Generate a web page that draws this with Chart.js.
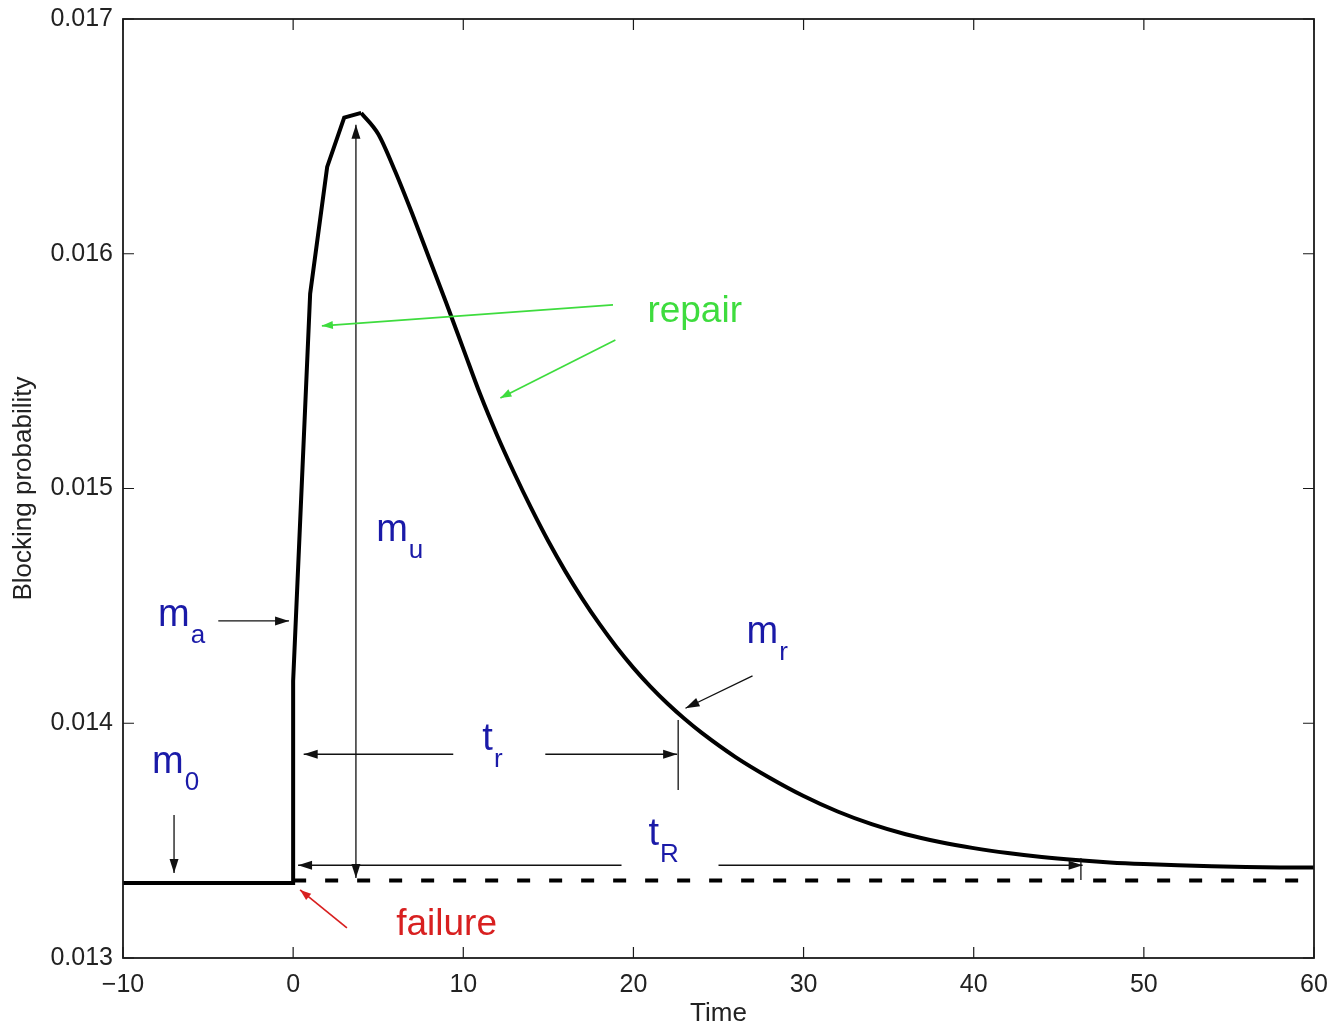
<!DOCTYPE html>
<html><head><meta charset="utf-8">
<script src="https://cdn.jsdelivr.net/npm/chart.js@4.4.0/dist/chart.umd.min.js"></script>
<style>html,body{margin:0;padding:0;background:#fff;}#wrap{width:1330px;height:1029px;}</style>
</head><body><div id="wrap"><canvas id="c" width="1330" height="1029"></canvas></div>
<script>
// ---- data ----
const timeValues = [-10, 0, 0, 1, 2, 3, 4, 5, 6, 7, 8, 9, 10, 11, 12, 13, 14, 15, 16, 17, 18, 19, 20, 21, 22, 23, 24, 26, 28, 30, 32, 34, 36, 38, 40, 42, 44, 46, 48, 50, 52, 54, 56, 58, 60];
const blockingValues = [0.01332, 0.01332, 0.01418, 0.01583, 0.01637, 0.01658, 0.01660, 0.01651, 0.01635, 0.01617, 0.01598, 0.01579, 0.015595, 0.015400, 0.015225, 0.015065, 0.014915, 0.014775, 0.014647, 0.014530, 0.014423, 0.014325, 0.014236, 0.014156, 0.014084, 0.014019, 0.013960, 0.013856, 0.013768, 0.013690, 0.013624, 0.013570, 0.013527, 0.013494, 0.013468, 0.013447, 0.013430, 0.013417, 0.013407, 0.013400, 0.013395, 0.013391, 0.013388, 0.013386, 0.013385];
const peakTime = 4; // the curve is smooth after the peak
const baselineTime = [0, 60];
const baselineValues = [0.01333, 0.01333];
const xTickValues = [-10, 0, 10, 20, 30, 40, 50, 60];
const xTickLabels = ['\u221210', '0', '10', '20', '30', '40', '50', '60'];
const yTickValues = [0.013, 0.014, 0.015, 0.016, 0.017];
const yTickLabels = ['0.013', '0.014', '0.015', '0.016', '0.017'];
const xTitle = 'Time';
const yTitle = 'Blocking probability';

// annotation arrows (data coordinates)
const arrows = [
  {from: [3.69, 0.013341], to: [3.69, 0.016549], both: true, kind: 'black'},
  {from: [-4.4, 0.014436], to: [-0.24, 0.014436], kind: 'black'},
  {from: [-7.0, 0.013609], to: [-7.0, 0.013362], kind: 'black'},
  {from: [9.41, 0.013868], to: [0.62, 0.013868], kind: 'black'},
  {from: [14.82, 0.013868], to: [22.57, 0.013868], kind: 'black'},
  {from: [19.3, 0.013395], to: [0.29, 0.013395], kind: 'black'},
  {from: [25.0, 0.013395], to: [46.4, 0.013395], kind: 'black'},
  {from: [27.0, 0.014202], to: [23.06, 0.014064], kind: 'black'},
  {from: [18.8, 0.015782], to: [1.69, 0.015693], kind: 'green'},
  {from: [18.94, 0.015633], to: [12.18, 0.015386], kind: 'green'},
  {from: [3.16, 0.013128], to: [0.41, 0.01329], kind: 'red'}
];
const tickMarks = [
  {x: 22.63, y1: 0.014014, y2: 0.013716},
  {x: 46.3, y1: 0.013426, y2: 0.013332}
];
const labels = [
  {main: 'm', sub: 'u', x: 4.88, y: 0.014777, kind: 'blue'},
  {main: 'm', sub: 'a', x: -7.94, y: 0.014415, kind: 'blue'},
  {main: 'm', sub: '0', x: -8.29, y: 0.013788, kind: 'blue'},
  {main: 't', sub: 'r', x: 11.12, y: 0.013886, kind: 'blue'},
  {main: 't', sub: 'R', x: 20.88, y: 0.013481, kind: 'blue'},
  {main: 'm', sub: 'r', x: 26.65, y: 0.014342, kind: 'blue'},
  {main: 'repair', sub: '', x: 20.82, y: 0.015710, kind: 'green'},
  {main: 'failure', sub: '', x: 6.06, y: 0.013098, kind: 'red'}
];

const FONT = "'Liberation Sans', Arial, Helvetica, sans-serif";
const colors = {black: '#111', green: '#3edc3e', red: '#d82020', blue: '#1a1aa8'};

const curve = timeValues.map((t, i) => ({x: t, y: blockingValues[i]}));
const peakIdx = timeValues.lastIndexOf(peakTime);
const risePart = curve.slice(0, peakIdx + 1);
const decayPart = curve.slice(peakIdx);
const base = baselineTime.map((t, i) => ({x: t, y: baselineValues[i]}));

function drawArrowHead(ctx, x1, y1, x2, y2, len, hw) {
  const a = Math.atan2(y2 - y1, x2 - x1);
  ctx.beginPath();
  ctx.moveTo(x2, y2);
  ctx.lineTo(x2 - len * Math.cos(a) + hw * Math.sin(a), y2 - len * Math.sin(a) - hw * Math.cos(a));
  ctx.lineTo(x2 - len * Math.cos(a) - hw * Math.sin(a), y2 - len * Math.sin(a) + hw * Math.cos(a));
  ctx.closePath();
  ctx.fill();
}

const decor = {
  id: 'decor',
  afterDatasetsDraw(chart) {
    const ctx = chart.ctx, xs = chart.scales.x, ys = chart.scales.y, a = chart.chartArea;
    ctx.save();
    ctx.strokeStyle = '#1a1a1a'; ctx.lineWidth = 1.8;
    ctx.strokeRect(a.left, a.top, a.right - a.left, a.bottom - a.top);
    ctx.lineWidth = 1.2;
    const tl = 11;
    xTickValues.forEach(v => {
      const px = xs.getPixelForValue(v);
      ctx.beginPath();
      ctx.moveTo(px, a.bottom); ctx.lineTo(px, a.bottom - tl);
      ctx.moveTo(px, a.top); ctx.lineTo(px, a.top + tl);
      ctx.stroke();
    });
    yTickValues.forEach(v => {
      const py = ys.getPixelForValue(v);
      ctx.beginPath();
      ctx.moveTo(a.left, py); ctx.lineTo(a.left + tl, py);
      ctx.moveTo(a.right, py); ctx.lineTo(a.right - tl, py);
      ctx.stroke();
    });
    arrows.forEach(ar => {
      const x1 = xs.getPixelForValue(ar.from[0]), y1 = ys.getPixelForValue(ar.from[1]);
      const x2 = xs.getPixelForValue(ar.to[0]), y2 = ys.getPixelForValue(ar.to[1]);
      const c = colors[ar.kind];
      ctx.strokeStyle = c; ctx.fillStyle = c;
      ctx.lineWidth = ar.kind === 'black' ? 1.3 : 1.7;
      ctx.beginPath(); ctx.moveTo(x1, y1); ctx.lineTo(x2, y2); ctx.stroke();
      const len = ar.kind === 'black' ? 14 : 11, hw = ar.kind === 'black' ? 4.5 : 4;
      drawArrowHead(ctx, x1, y1, x2, y2, len, hw);
      if (ar.both) drawArrowHead(ctx, x2, y2, x1, y1, len, hw);
    });
    ctx.strokeStyle = '#111'; ctx.lineWidth = 1.3;
    tickMarks.forEach(t => {
      const px = xs.getPixelForValue(t.x);
      ctx.beginPath();
      ctx.moveTo(px, ys.getPixelForValue(t.y1)); ctx.lineTo(px, ys.getPixelForValue(t.y2));
      ctx.stroke();
    });
    ctx.textBaseline = 'alphabetic'; ctx.textAlign = 'left';
    labels.forEach(l => {
      const px = xs.getPixelForValue(l.x), py = ys.getPixelForValue(l.y);
      ctx.fillStyle = colors[l.kind];
      ctx.font = (l.sub ? '38px ' : '37px ') + FONT;
      ctx.fillText(l.main, px, py);
      if (l.sub) {
        const w = ctx.measureText(l.main).width;
        ctx.font = '26px ' + FONT;
        ctx.fillText(l.sub, px + w + 1, py + 17);
      }
    });
    ctx.restore();
  }
};

const lineStyle = {showLine: true, borderColor: '#000', borderWidth: 4, pointRadius: 0, fill: false};

new Chart(document.getElementById('c'), {
  type: 'scatter',
  data: {
    datasets: [
      Object.assign({data: risePart, tension: 0}, lineStyle),
      Object.assign({data: decayPart, cubicInterpolationMode: 'monotone'}, lineStyle),
      Object.assign({data: base, tension: 0, borderDash: [13, 19]}, lineStyle)
    ]
  },
  options: {
    responsive: false, animation: false, devicePixelRatio: 1,
    layout: {padding: {left: 0, right: 16, top: 19, bottom: 0}},
    plugins: {legend: {display: false}, tooltip: {enabled: false}},
    scales: {
      x: {
        type: 'linear', min: -10, max: 60,
        afterBuildTicks: s => { s.ticks = xTickValues.map(v => ({value: v})); },
        ticks: {callback: (v, i) => xTickLabels[i], font: {size: 25, family: FONT}, color: '#222', padding: 12, maxRotation: 0},
        grid: {display: false, drawTicks: false},
        border: {display: false},
        title: {display: true, text: xTitle, font: {size: 26, family: FONT}, color: '#222', padding: {top: 0, bottom: 0}},
        afterFit: s => { s.height = 71; s.paddingLeft = 0; s.paddingRight = 0; }
      },
      y: {
        type: 'linear', min: 0.013, max: 0.017,
        afterBuildTicks: s => { s.ticks = yTickValues.map(v => ({value: v})); },
        ticks: {callback: (v, i) => yTickLabels[i], font: {size: 25, family: FONT}, color: '#222', padding: 10},
        grid: {display: false, drawTicks: false},
        border: {display: false},
        title: {display: true, text: yTitle, font: {size: 26, family: FONT}, color: '#222', padding: {top: 8, bottom: 0}},
        afterFit: s => { s.width = 123; s.paddingTop = 0; s.paddingBottom = 0; }
      }
    }
  },
  plugins: [decor]
});
</script></body></html>
